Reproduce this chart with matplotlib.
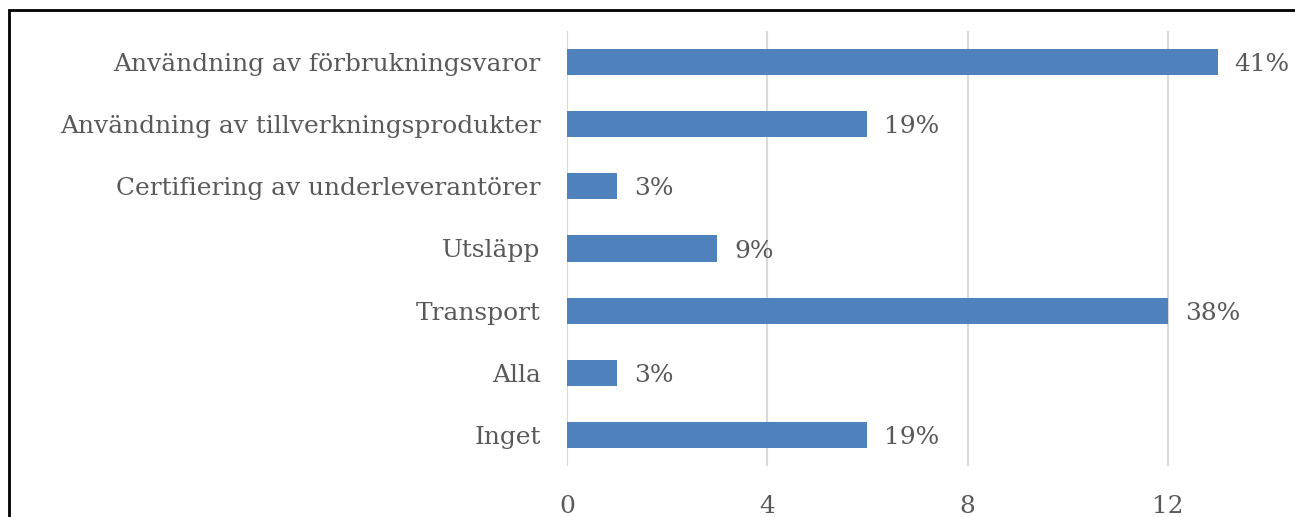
import matplotlib.pyplot as plt
from matplotlib.patches import Rectangle

# Data
categories = ['Användning av förbrukningsvaror', 'Användning av tillverkningsprodukter',
              'Certifiering av underleverantörer', 'Utsläpp', 'Transport', 'Alla', 'Inget']
counts = [13, 6, 1, 3, 12, 1, 6]
percent_labels = ['41%', '19%', '3%', '9%', '38%', '3%', '19%']
xticks = [0, 4, 8, 12]

plt.rcParams['font.family'] = ['DejaVu Serif']
text_color = '#595959'
bar_color = '#4F81BD'
fs = 17.9

W, H = 1295, 517
fig = plt.figure(figsize=(W / 100, H / 100), dpi=100)

# axes placed in pixel coordinates (right side runs past the cropped image)
left, right = 567, 567 + 50.08 * 16
top, bottom = 31, 466
ax = fig.add_axes([left / W, 1 - bottom / H, (right - left) / W, (bottom - top) / H])

y = list(range(len(categories)))
ax.barh(y, counts, height=0.42, color=bar_color, zorder=3)
for yi, c, lab in zip(y, counts, percent_labels):
    ax.annotate(lab, (c, yi), xytext=(12, 0), textcoords='offset points',
                va='center_baseline', ha='left', fontsize=fs, color=text_color)

ax.set_ylim(len(categories) - 0.5, -0.5)
ax.set_xlim(0, 16)
ax.set_yticks(y)
ax.set_yticklabels(categories)
ax.set_xticks(xticks)
ax.tick_params(axis='both', length=0, labelsize=fs, labelcolor=text_color)
ax.tick_params(axis='y', pad=19)
ax.tick_params(axis='x', pad=21)
ax.grid(axis='x', color='#D9D9D9', linewidth=1.5, zorder=0)
for s in ax.spines.values():
    s.set_visible(False)

# outer frame of the original chart (only left and top edges are visible)
fig.patches.append(Rectangle((8.5 / W, -0.1), 1.2, 1 - 9.5 / H + 0.1, transform=fig.transFigure,
                             fill=False, edgecolor='black', linewidth=2, figure=fig))

fig.savefig('out.png', dpi=100)
